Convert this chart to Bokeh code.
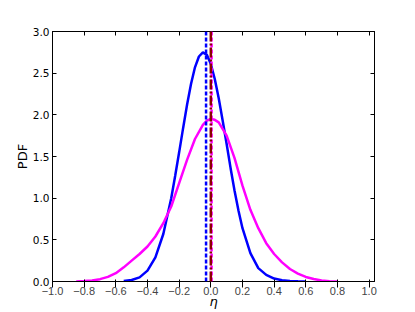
from bokeh.plotting import figure
from bokeh.models import Range1d, FixedTicker, LinearAxis, Span, CustomJSTickFormatter
from bokeh.embed import file_html
from bokeh.resources import INLINE

# ---- data ----
eta_blue = [-0.55, -0.50, -0.45, -0.40, -0.35, -0.30, -0.25, -0.225, -0.20, -0.175,
            -0.15, -0.125, -0.10, -0.075, -0.05, -0.025, 0.00, 0.025, 0.05, 0.075,
            0.10, 0.125, 0.15, 0.175, 0.20, 0.25, 0.30, 0.35, 0.40, 0.45, 0.50, 0.55, 0.60]
pdf_blue = [0.005, 0.018, 0.05, 0.13, 0.29, 0.57, 1.00, 1.27, 1.55, 1.84,
            2.12, 2.37, 2.57, 2.70, 2.75, 2.72, 2.61, 2.43, 2.20, 1.93,
            1.65, 1.36, 1.09, 0.85, 0.64, 0.34, 0.16, 0.08, 0.035, 0.015, 0.007, 0.003, 0.0]

eta_magenta = [-0.85, -0.80, -0.75, -0.70, -0.65, -0.60, -0.55, -0.50, -0.45, -0.40,
               -0.35, -0.30, -0.25, -0.20, -0.15, -0.10, -0.05, -0.025, 0.00, 0.025,
               0.05, 0.10, 0.15, 0.20, 0.25, 0.30, 0.35, 0.40, 0.45, 0.50,
               0.55, 0.60, 0.65, 0.70, 0.75, 0.80]
pdf_magenta = [0.0, 0.005, 0.013, 0.028, 0.055, 0.10, 0.17, 0.25, 0.33, 0.42,
               0.54, 0.70, 0.90, 1.18, 1.46, 1.71, 1.88, 1.93, 1.95, 1.94,
               1.91, 1.75, 1.48, 1.15, 0.86, 0.64, 0.46, 0.33, 0.23, 0.15,
               0.095, 0.055, 0.03, 0.013, 0.004, 0.0]

mean_blue = -0.03
mean_magenta = 0.005
true_eta = 0.0

x_ticks = [-1.0, -0.8, -0.6, -0.4, -0.2, 0.0, 0.2, 0.4, 0.6, 0.8, 1.0]
x_tick_labels = ["\u22121.0", "\u22120.8", "\u22120.6", "\u22120.4", "\u22120.2",
                 "0.0", "0.2", "0.4", "0.6", "0.8", "1.0"]
y_ticks = [0.0, 0.5, 1.0, 1.5, 2.0, 2.5, 3.0]
y_tick_labels = ["0.0", "0.5", "1.0", "1.5", "2.0", "2.5", "3.0"]

FONT = "DejaVu Sans"


def label_formatter(tvals, tlabels):
    return CustomJSTickFormatter(
        args=dict(tvals=tvals, tlabels=tlabels),
        code="""
        for (let i = 0; i < tvals.length; i++) {
            if (Math.abs(tvals[i] - tick) < 1e-9) { return tlabels[i]; }
        }
        return '';
        """)


blank = CustomJSTickFormatter(code="return '';")

p = figure(width=415, height=312, output_backend="svg", toolbar_location=None,
           x_range=Range1d(-1.0, 1.034), y_range=Range1d(0.0, 3.0),
           min_border_left=52, min_border_right=41, min_border_top=31, min_border_bottom=31,
           x_axis_label="\u03b7", y_axis_label="PDF")
p.grid.visible = False
p.background_fill_color = "white"
p.border_fill_color = "white"
p.outline_line_color = "black"
p.outline_line_width = 1

p.xaxis.ticker = FixedTicker(ticks=x_ticks)
p.xaxis.formatter = label_formatter(x_ticks, x_tick_labels)
p.yaxis.ticker = FixedTicker(ticks=y_ticks)
p.yaxis.formatter = label_formatter(y_ticks, y_tick_labels)

top_axis = LinearAxis(ticker=FixedTicker(ticks=x_ticks), formatter=blank)
right_axis = LinearAxis(ticker=FixedTicker(ticks=y_ticks), formatter=blank)
p.add_layout(top_axis, "above")
p.add_layout(right_axis, "right")

for ax in [p.xaxis[0], p.yaxis[0], top_axis, right_axis]:
    ax.major_tick_in = 4
    ax.major_tick_out = 0
    ax.minor_tick_line_color = None
    ax.major_tick_line_color = "black"
    ax.major_tick_line_width = 1
    ax.axis_line_color = "black"
    ax.axis_line_width = 1
    ax.major_label_text_font = FONT
    ax.major_label_text_font_size = "10.5px"
    ax.major_label_text_color = "black"
    ax.major_label_standoff = 3

p.xaxis.major_label_standoff = -1

p.xaxis.axis_label_text_font = FONT
p.xaxis.axis_label_text_font_size = "13px"
p.xaxis.axis_label_text_font_style = "italic"
p.xaxis.axis_label_text_color = "black"
p.xaxis.axis_label_standoff = -4

p.yaxis.axis_label_text_font = FONT
p.yaxis.axis_label_text_font_size = "13px"
p.yaxis.axis_label_text_font_style = "normal"
p.yaxis.axis_label_text_color = "black"
p.yaxis.axis_label_standoff = 0

p.line(eta_blue, pdf_blue, line_color="#0000ff", line_width=2.5)
p.line(eta_magenta, pdf_magenta, line_color="#ff00ff", line_width=2.5)

p.add_layout(Span(location=mean_blue, dimension="height", line_color="#0000ff",
                  line_width=2.5, line_dash="4 2"))
p.add_layout(Span(location=mean_magenta, dimension="height", line_color="#ff00ff",
                  line_width=2.5, line_dash="4 2"))
p.add_layout(Span(location=true_eta, dimension="height", line_color="#8b0000",
                  line_width=2.5, line_dash="10 2 2 2"))

open("out.html", "w").write(file_html(p, INLINE))
